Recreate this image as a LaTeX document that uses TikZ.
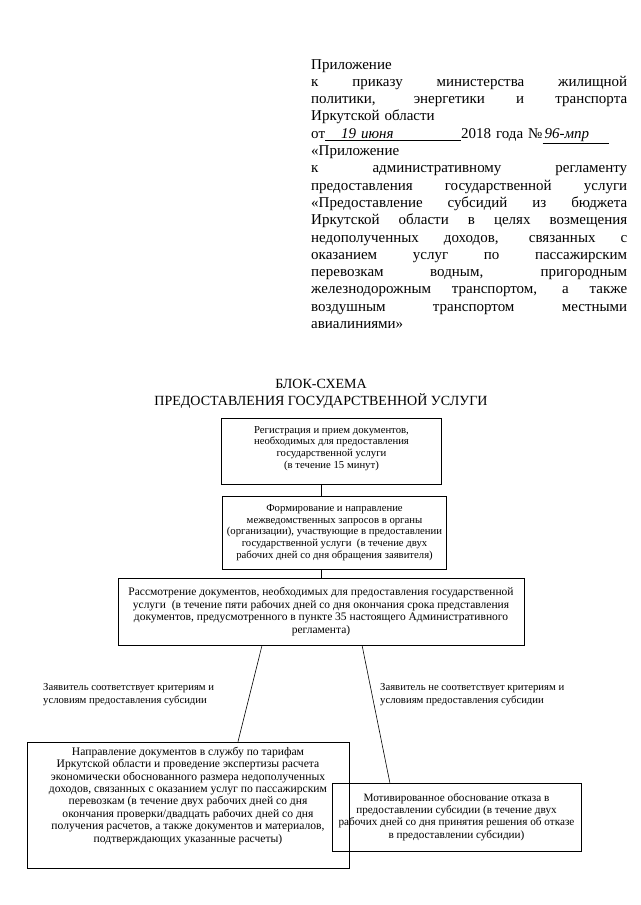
\documentclass[tikz,border=0pt]{standalone}
\usepackage{fontspec}
\setmainfont{Liberation Serif}
\usetikzlibrary{calc,positioning}

\newcommand{\jline}[1]{\leavevmode\hbox to 316pt{\spaceskip=0.25em plus 1fil\relax#1}}
\newcommand{\headfont}{\fontsize{15}{17.3}\selectfont}
\newcommand{\titlefont}{\fontsize{14}{17}\selectfont}
\newcommand{\boxfont}{\fontsize{10.7}{11.6}\selectfont}
\newcommand{\bigboxfont}{\fontsize{11.5}{12.5}\selectfont}

\begin{document}
\begin{tikzpicture}[x=1pt, y=-1pt,
  stepbox/.style={draw, line width=0.6pt, align=center, inner sep=0pt, font=\boxfont},
  branch/.style={align=left, inner sep=0pt, font=\fontsize{10.7}{13}\selectfont},
  link/.style={line width=0.6pt}]
\useasboundingbox (0,0) rectangle (640,905);

% header
\node[anchor=north west, inner sep=0pt, text width=316pt, align=left, font=\headfont] (head) at (311,59)
 {Приложение\\
  \jline{к приказу министерства жилищной}\\
  \jline{политики, энергетики и транспорта}\\
  Иркутской области\\
  от\underline{\makebox[136pt][l]{\hspace{16pt}\textit{19 июня}}}2018 года №\underline{\makebox[66pt][l]{\hspace{2pt}\textit{96-мпр}}}\\
  «Приложение\\
  \jline{к административному регламенту}\\
  \jline{предоставления государственной услуги}\\
  \jline{«Предоставление субсидий из бюджета}\\
  \jline{Иркутской области в целях возмещения}\\
  \jline{недополученных доходов, связанных с}\\
  \jline{оказанием услуг по пассажирским}\\
  \jline{перевозкам водным, пригородным}\\
  \jline{железнодорожным транспортом, а также}\\
  \jline{воздушным транспортом местными}\\
  авиалиниями»};

% title
\node[align=center, inner sep=0pt, font=\titlefont] (title) at (321,394)
 {БЛОК-СХЕМА\\ПРЕДОСТАВЛЕНИЯ ГОСУДАРСТВЕННОЙ УСЛУГИ};

% steps
\node[stepbox, minimum width=220pt, minimum height=66pt] (reg) at (331.5,451)
 {Регистрация и прием документов,\\необходимых для предоставления\\государственной услуги\\(в течение 15 минут)\\[-4pt]};
\node[stepbox, minimum width=224pt, minimum height=73pt] (req) at (334.5,532.5)
 {Формирование и направление\\межведомственных запросов в органы\\(организации), участвующие в предоставлении\\государственной услуги\ \ (в течение двух\\рабочих дней со дня обращения заявителя)};
\node[stepbox, font=\bigboxfont, minimum width=406pt, minimum height=67pt] (rev) at (321,611.5)
 {Рассмотрение документов, необходимых для предоставления государственной\\услуги\ \ (в течение пяти рабочих дней со дня окончания срока представления\\документов, предусмотренного в пункте 35 настоящего Административного\\регламента)};

% outcomes
\node[stepbox, font=\fontsize{11.6}{12.4}\selectfont] (send) at (188,805)
 {\parbox[c][126pt][t]{322pt}{\centering\vspace{5pt}%
  Направление документов в службу по тарифам\\
  Иркутской области и проведение экспертизы расчета\\
  экономически обоснованного размера недополученных\\
  доходов, связанных с оказанием услуг по пассажирским\\
  перевозкам (в течение двух рабочих дней со дня\\
  окончания проверки/двадцать рабочих дней со дня\\
  получения расчетов, а также документов и материалов,\\
  подтверждающих указанные расчеты)}};
\node[stepbox, font=\fontsize{11.2}{12.2}\selectfont, minimum width=249pt, minimum height=68pt] (deny) at (456.5,817)
 {Мотивированное обоснование отказа в\\предоставлении субсидии (в течение двух\\рабочих дней со дня принятия решения об отказе\\в предоставлении субсидии)};

% conditions
\node[branch, anchor=west] (yes) at (43,695)
 {Заявитель соответствует критериям и\\условиям предоставления субсидии};
\node[branch, anchor=west] (no) at (380,695)
 {Заявитель не соответствует критериям и\\условиям предоставления субсидии};

% connectors
\draw[link] (reg.south -| rev.north) -- (req.north -| rev.north);
\draw[link] (req.south -| rev.north) -- (rev.north);
\draw[link] ($(rev.south west)!0.355!(rev.south east)$) -- ($(send.north west)!0.655!(send.north east)$);
\draw[link] ($(rev.south west)!0.601!(rev.south east)$) -- ($(deny.north west)!0.233!(deny.north east)$);
\end{tikzpicture}
\end{document}
